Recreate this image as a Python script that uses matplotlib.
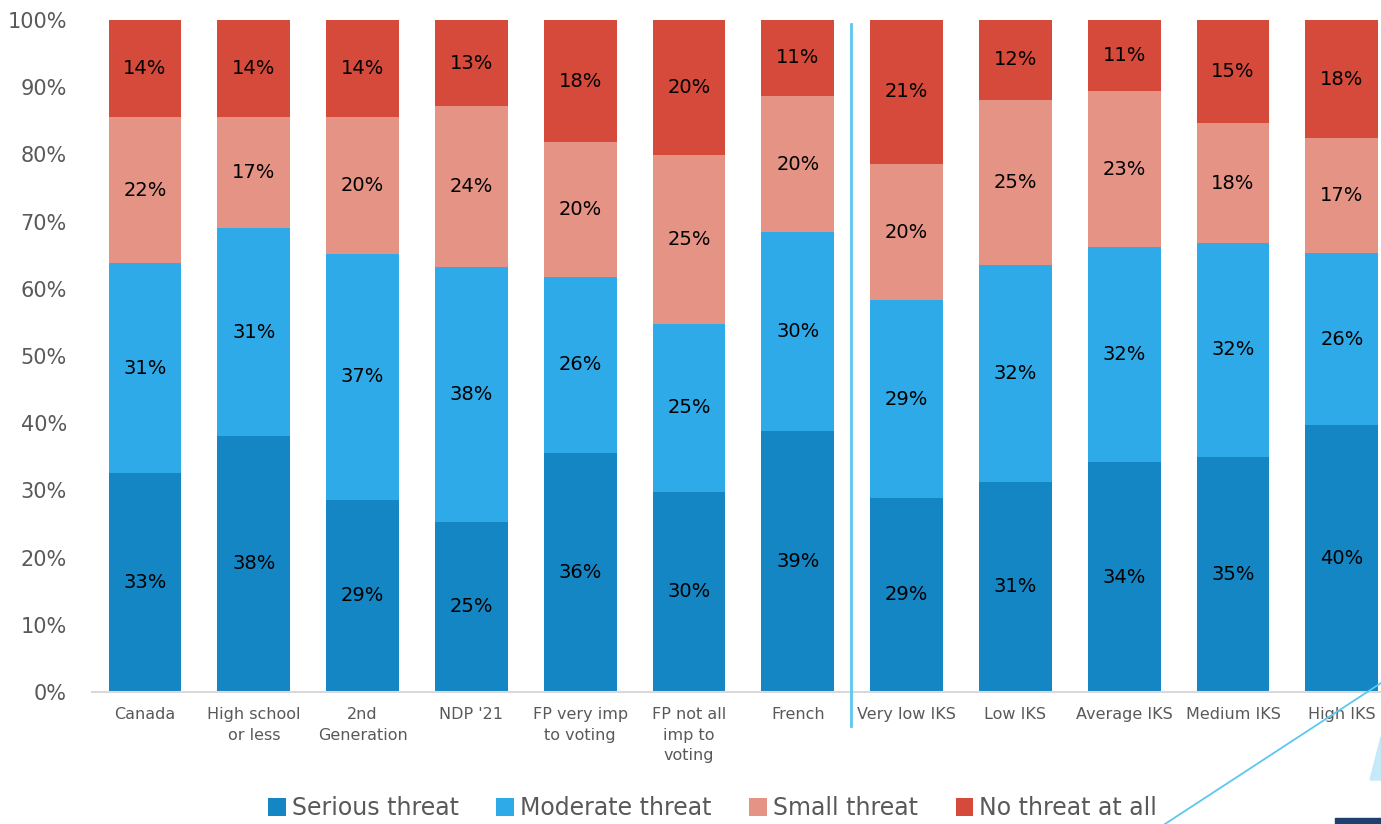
import matplotlib
matplotlib.use("Agg")
import matplotlib.pyplot as plt
from matplotlib.lines import Line2D
from matplotlib.patches import Polygon, Rectangle

# Categories along the x axis
categories = [
    "Canada", "High school\nor less", "2nd\nGeneration", "NDP '21",
    "FP very imp\nto voting", "FP not all\nimp to\nvoting", "French",
    "Very low IKS", "Low IKS", "Average IKS", "Medium IKS", "High IKS",
]

# Share of respondents (%) per answer
serious = [32.6, 38.1, 28.6, 25.3, 35.6, 29.8, 38.8, 28.9, 31.3, 34.2, 35.0, 39.7]
moderate = [31.2, 30.9, 36.6, 37.9, 26.2, 25.0, 29.6, 29.4, 32.2, 32.0, 31.8, 25.6]
small = [21.8, 16.6, 20.4, 24.0, 20.0, 25.1, 20.3, 20.3, 24.6, 23.2, 17.8, 17.1]
no_threat = [14.4, 14.4, 14.4, 12.8, 18.2, 20.1, 11.3, 21.4, 11.9, 10.6, 15.4, 17.6]

series = [
    ("Serious threat", serious, "#1486c4"),
    ("Moderate threat", moderate, "#2eaae8"),
    ("Small threat", small, "#e59385"),
    ("No threat at all", no_threat, "#d54a3b"),
]

GREY = "#595959"

fig = plt.figure(figsize=(13.81, 8.24), dpi=100)
ax = fig.add_axes([92 / 1381, 1 - 692 / 824, 1289 / 1381, 672 / 824])

x = list(range(len(categories)))
bottoms = [0 for _ in categories]
for label, vals, col in series:
    ax.bar(x, vals, width=0.67, bottom=bottoms, color=col, label=label, zorder=2)
    for i, v in enumerate(vals):
        ax.text(i, bottoms[i] + v / 2, "{:.0f}%".format(v),
                ha="center", va="center", fontsize=14, color="black", zorder=3)
    bottoms = [b + v for b, v in zip(bottoms, vals)]

ax.set_xlim(-0.487, 11.36)
ax.set_ylim(0, 100)
ax.set_yticks(range(0, 101, 10))
ax.set_yticklabels(["{}%".format(t) for t in range(0, 101, 10)])
ax.set_xticks(x)
ax.set_xticklabels(categories, fontsize=11.5, color=GREY, linespacing=1.45)
ax.tick_params(axis="y", length=0, pad=18, labelsize=15, labelcolor=GREY)
ax.tick_params(axis="x", length=0, pad=11)

for s in ["top", "right", "left"]:
    ax.spines[s].set_visible(False)
ax.spines["bottom"].set_color("#d9d9d9")
ax.spines["bottom"].set_linewidth(1.5)

# separator between groups
ax.plot([6.49, 6.49], [-5, 99.4], color="#5bc8f0", lw=2, clip_on=False, zorder=4)

leg = fig.legend(loc="center", bbox_to_anchor=(0.516, 0.019), ncol=4,
                 frameon=False, fontsize=17, handlelength=0.75, handleheight=0.75,
                 handletextpad=0.25, columnspacing=1.6)
for t in leg.get_texts():
    t.set_color(GREY)

# slide decoration at bottom right
fig.add_artist(Line2D([1165 / 1381, 1.0], [0, 1 - 683 / 824], color="#5bc8f0", lw=1.3))
fig.add_artist(Polygon([[1370 / 1381, 1 - 780 / 824], [1.0, 1 - 737 / 824], [1.0, 1 - 780 / 824]],
                       closed=True, color="#c5e9f8"))
fig.add_artist(Rectangle((1335 / 1381, 0), 46 / 1381, 6 / 824, color="#1f3f6e"))

fig.savefig("out.png", dpi=100)
